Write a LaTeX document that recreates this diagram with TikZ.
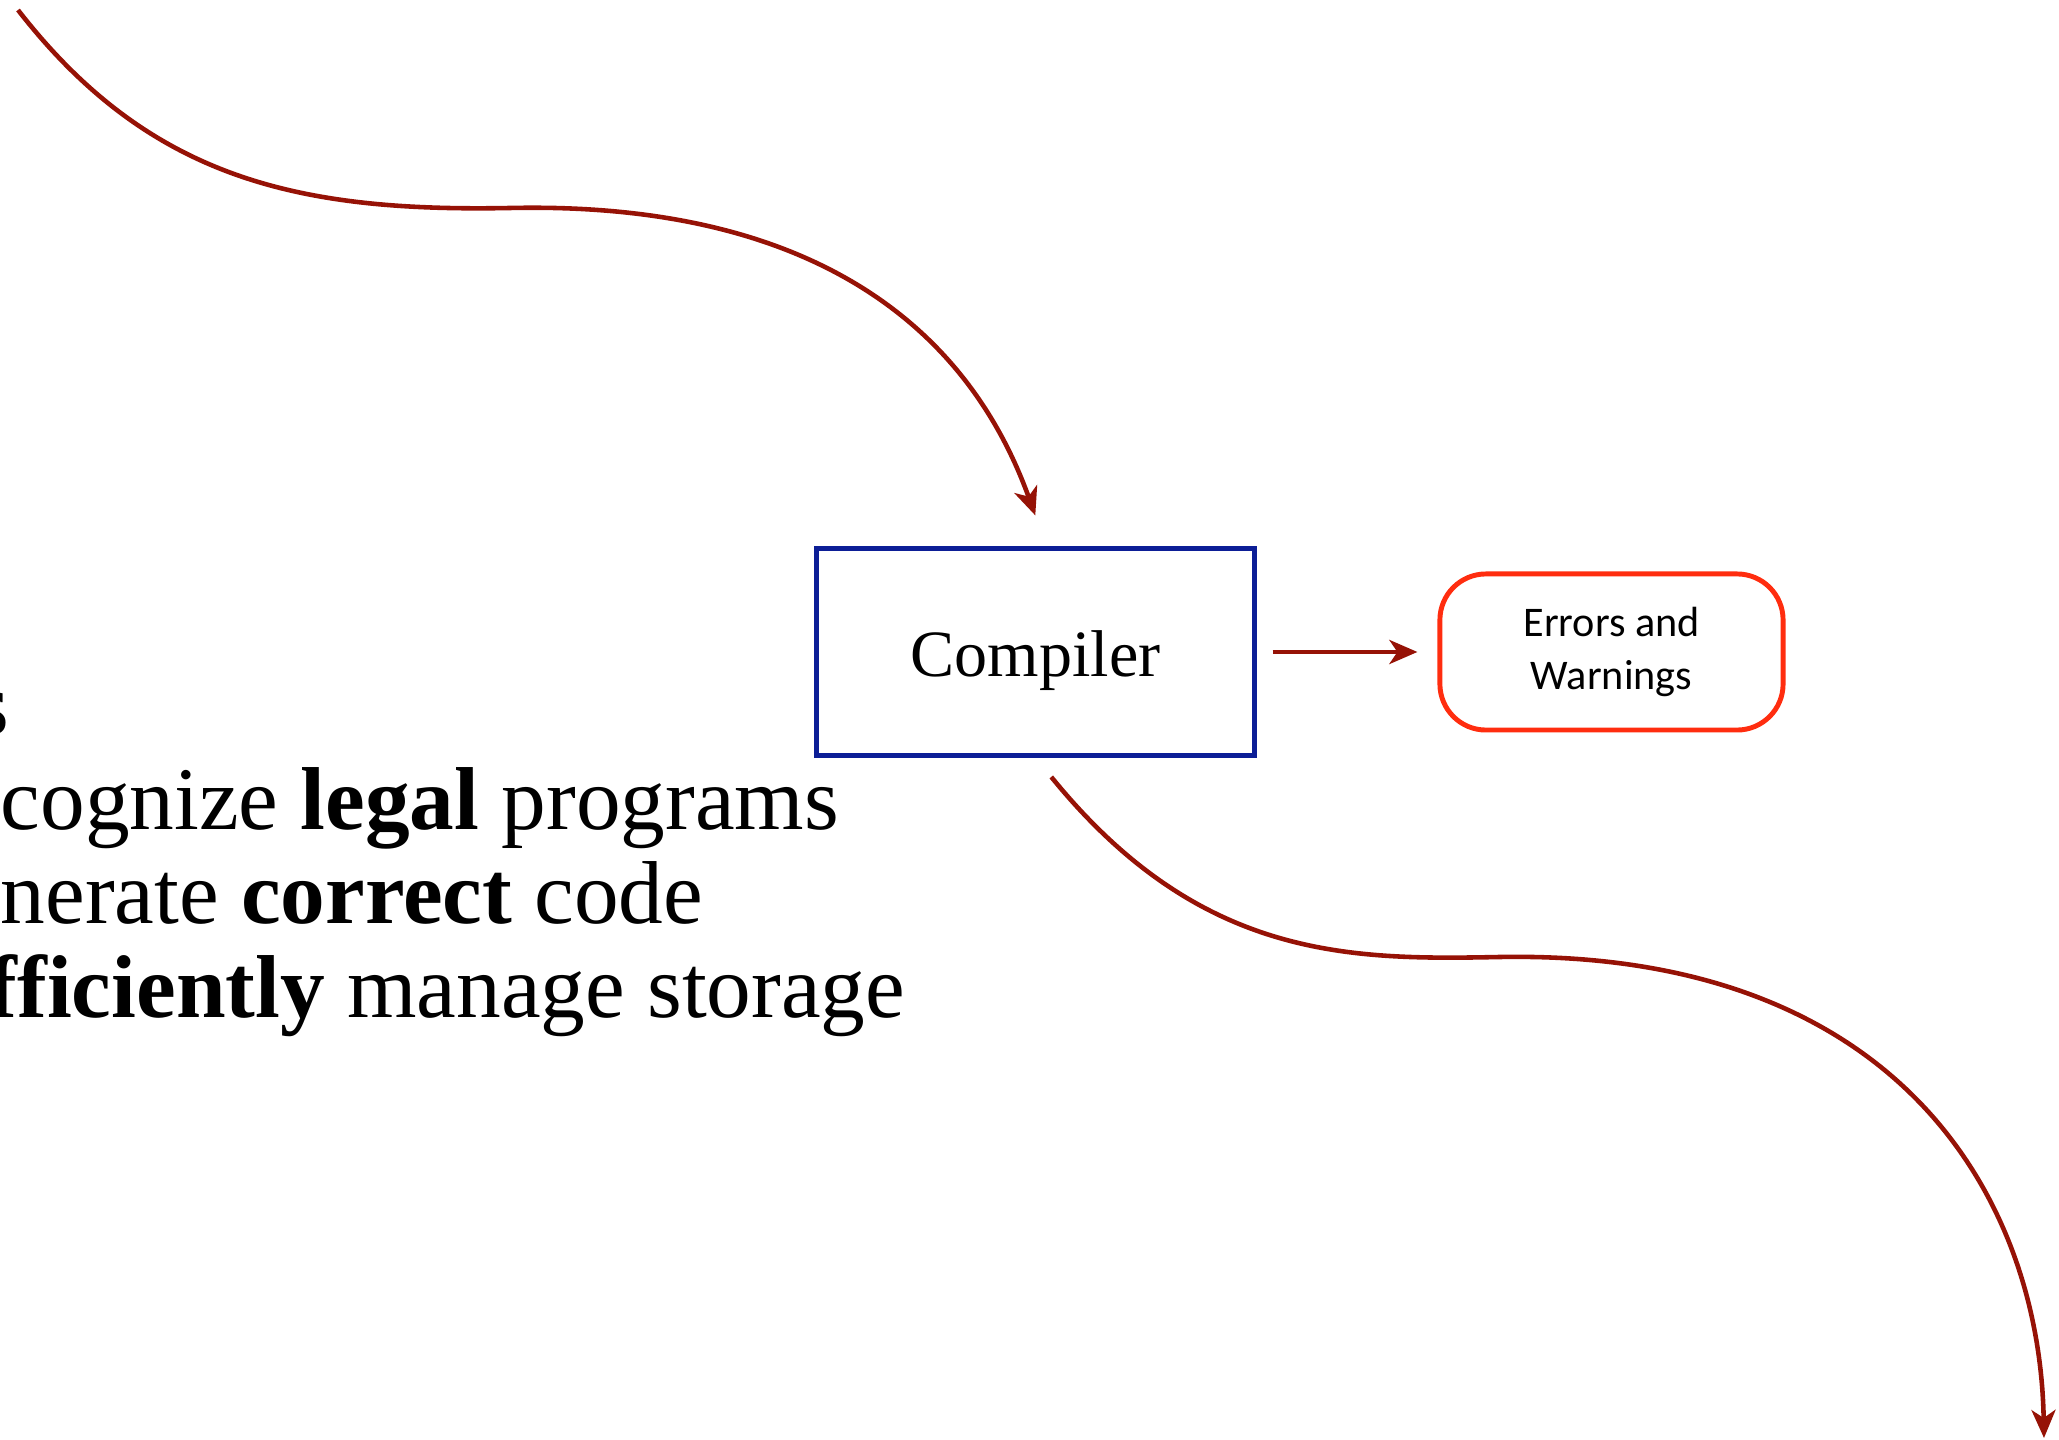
\documentclass[tikz,border=0pt]{standalone}
\usepackage{fontspec}
\setmainfont{Liberation Serif}
\newfontfamily\calfont{Carlito}
\usetikzlibrary{arrows.meta}
\definecolor{wire}{RGB}{150,18,6}
\definecolor{boxblue}{RGB}{12,30,150}
\definecolor{boxred}{RGB}{255,45,15}
\tikzset{
  conn/.style={draw=wire, line width=1.3pt,
    -{Stealth[length=2.8mm, width=2.4mm, inset=0.8mm]}},
  compbox/.style={draw=boxblue, line width=1.4pt, fill=white,
    minimum width=4.37cm, minimum height=2.06cm, inner sep=0pt,
    text height=13.7pt, text depth=0pt,
    font=\fontsize{18.8}{22}\selectfont},
  errbox/.style={draw=boxred, line width=1.4pt, rounded corners=4.6mm,
    minimum width=3.43cm, minimum height=1.56cm, inner sep=0pt, align=center,
    font=\calfont\fontsize{12}{15}\selectfont},
  bullet/.style={inner sep=0pt, font=\fontsize{25.4}{27}\selectfont}
}
\begin{document}
\begin{tikzpicture}[x=0.01cm, y=-0.01cm]
\useasboundingbox (0,0) rectangle (2059,1440);
\clip (0,0) rectangle (2059,1440);

% main blocks
\node[compbox] (comp) at (1035.5,652) {Compiler};
\node[errbox] (err) at (1611.5,652) {Errors and\\Warnings};

% text lines on the left
\node[bullet, anchor=base east] (t0) at (10,735) {s};
\node[bullet, anchor=base west] (t1) at (0,830) {cognize \textbf{legal} programs};
\node[bullet, anchor=base west] (t2) at (0,924) {nerate \textbf{correct} code};
\node[bullet, anchor=base east] (t3) at (906,1018) {\textbf{fficiently} manage storage};

% connector ends
\coordinate (src) at (18,10);
\coordinate (dst) at (2044,1438);

% connectors
\draw[conn, shorten <=0.16cm, shorten >=0.2cm] (comp) -- (err);
\draw[conn, shorten >=0.33cm] (src) .. controls (150,180) and (300,212) .. (510,208)
  .. controls (880,200) and (990,390) .. ([xshift=0.11cm]comp.north);
\draw[conn, shorten <=0.25cm] (comp.south) .. controls (1200,960) and (1350,960) .. (1500,957)
  .. controls (1900,950) and (2040,1200) .. (dst);
\end{tikzpicture}
\end{document}
